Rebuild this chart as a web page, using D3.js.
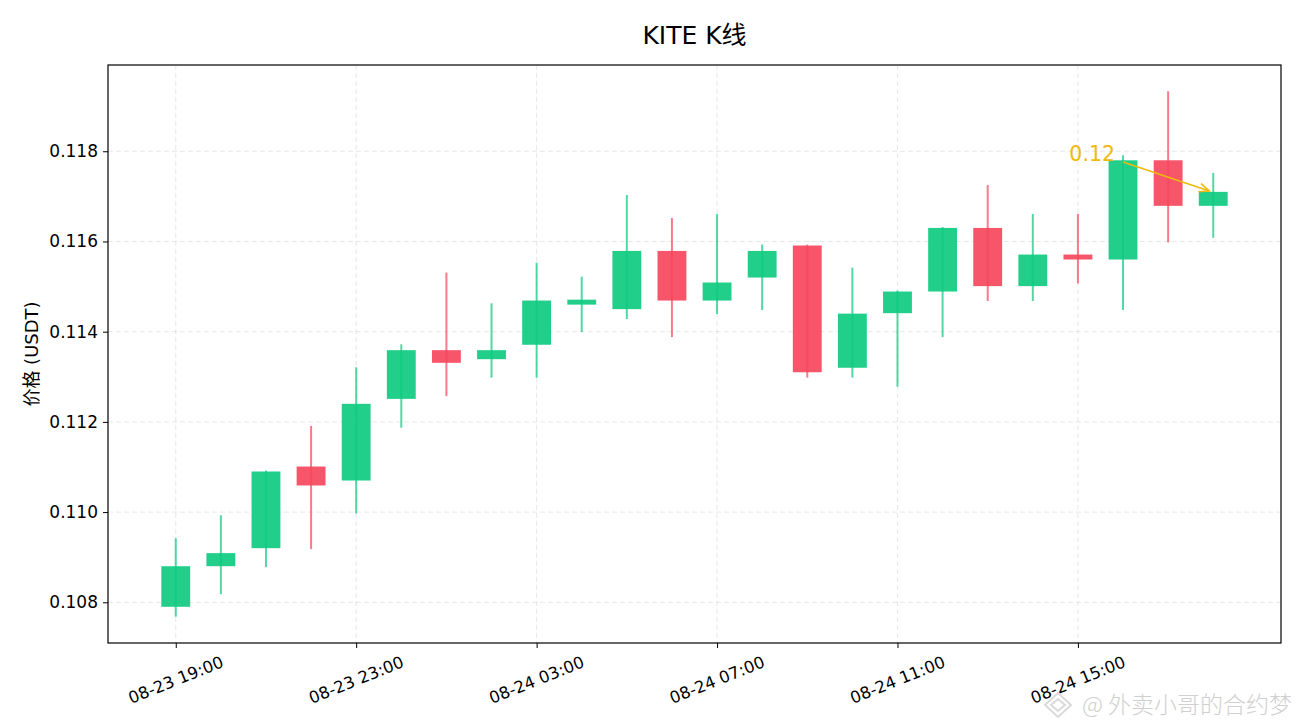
<!DOCTYPE html>
<html>
<head>
<meta charset="utf-8">
<script src="https://cdn.jsdelivr.net/npm/d3@7"></script>
<style>
  body { margin: 0; background: #fff; }
  svg { display: block; font-family: "DejaVu Sans", "Noto Sans CJK SC", sans-serif; }
</style>
</head>
<body>
<svg id="chart" width="1300" height="728"></svg>
<script>
// KITE hourly candles

const times = [
  '2025-08-23 19:00', '2025-08-23 20:00', '2025-08-23 21:00', '2025-08-23 22:00',
  '2025-08-23 23:00', '2025-08-24 00:00', '2025-08-24 01:00', '2025-08-24 02:00',
  '2025-08-24 03:00', '2025-08-24 04:00', '2025-08-24 05:00', '2025-08-24 06:00',
  '2025-08-24 07:00', '2025-08-24 08:00', '2025-08-24 09:00', '2025-08-24 10:00',
  '2025-08-24 11:00', '2025-08-24 12:00', '2025-08-24 13:00', '2025-08-24 14:00',
  '2025-08-24 15:00', '2025-08-24 16:00', '2025-08-24 17:00', '2025-08-24 18:00'
];
const opens = [0.10790, 0.10880, 0.10920, 0.11101, 0.11070, 0.11251, 0.11359, 0.11339,
  0.11371, 0.11460, 0.11450, 0.11579, 0.11469, 0.11520, 0.11591, 0.11320,
  0.11441, 0.11489, 0.11630, 0.11501, 0.11571, 0.11560, 0.11780, 0.11679];
const closes = [0.10880, 0.10909, 0.11090, 0.11059, 0.11240, 0.11359, 0.11331, 0.11359,
  0.11469, 0.11471, 0.11579, 0.11469, 0.11509, 0.11579, 0.11310, 0.11440,
  0.11489, 0.11630, 0.11501, 0.11571, 0.11560, 0.11780, 0.11679, 0.11710];
const highs = [0.10942, 0.10993, 0.11092, 0.11191, 0.11321, 0.11372, 0.11531, 0.11463,
  0.11553, 0.11522, 0.11703, 0.11652, 0.11661, 0.11593, 0.11593, 0.11542,
  0.11491, 0.11632, 0.11725, 0.11661, 0.11661, 0.11791, 0.11933, 0.11752];
const lows = [0.10768, 0.10818, 0.10878, 0.10918, 0.10997, 0.11187, 0.11257, 0.11298,
  0.11298, 0.11399, 0.11428, 0.11388, 0.11439, 0.11448, 0.11298, 0.11298,
  0.11278, 0.11388, 0.11468, 0.11468, 0.11507, 0.11448, 0.11598, 0.11608];

const yTicks = [0.108, 0.110, 0.112, 0.114, 0.116, 0.118];
const xTickIdx = [0, 4, 8, 12, 16, 20];

// annotation: last close, arrow drawn from an earlier candle
const annText = '0.12';
const annFrom = { i: 21, price: 0.11776 };
const annTo = { i: 23, price: 0.11712 };

const green = '#0ecb81', red = '#f6465d', gold = '#f0b90b';
const hour = 3600 * 1000;

const parse = d3.timeParse('%Y-%m-%d %H:%M');
const fmt = d3.timeFormat('%m-%d %H:%M');
const dates = times.map(parse);

const data = dates.map((t, i) => ({
  t: t, o: opens[i], c: closes[i], h: highs[i], l: lows[i]
}));

const svg = d3.select('#chart'),
  margin = { top: 65, right: 19, bottom: 85, left: 108 },
  width = +svg.attr('width') - margin.left - margin.right,
  height = +svg.attr('height') - margin.top - margin.bottom;

const g = svg.append('g')
  .attr('transform', 'translate(' + margin.left + ',' + margin.top + ')');

// matplotlib-like 5% padding on both axes
const half = 0.32 * hour;
const tMin = +dates[0] - half, tMax = +dates[dates.length - 1] + half;
const xPad = (tMax - tMin) * 0.05;
const x = d3.scaleTime()
  .domain([new Date(tMin - xPad), new Date(tMax + xPad)])
  .range([0, width]);

const lo = d3.min(lows), hi = d3.max(highs);
const yPad = (hi - lo) * 0.05;
const y = d3.scaleLinear().domain([lo - yPad, hi + yPad]).range([height, 0]);

// grid
g.append('g').selectAll('line').data(yTicks).join('line')
  .attr('x1', 0).attr('x2', width)
  .attr('y1', d => y(d)).attr('y2', d => y(d))
  .attr('stroke', '#b0b0b0').attr('stroke-opacity', 0.3)
  .attr('stroke-dasharray', '5,3');

g.append('g').selectAll('line').data(xTickIdx).join('line')
  .attr('x1', d => x(dates[d])).attr('x2', d => x(dates[d]))
  .attr('y1', 0).attr('y2', height)
  .attr('stroke', '#b0b0b0').attr('stroke-opacity', 0.3)
  .attr('stroke-dasharray', '5,3');

// candles
const bw = x(new Date(+dates[0] + half)) - x(new Date(+dates[0] - half));
const candles = g.append('g').selectAll('g').data(data).join('g');

candles.append('rect')
  .attr('x', d => x(d.t) - bw / 2)
  .attr('width', bw)
  .attr('y', d => y(Math.max(d.o, d.c)))
  .attr('height', d => Math.max(1, Math.abs(y(d.o) - y(d.c))))
  .attr('fill', d => d.c >= d.o ? green : red)
  .attr('fill-opacity', 0.92);

candles.append('line')
  .attr('x1', d => x(d.t)).attr('x2', d => x(d.t))
  .attr('y1', d => y(d.h)).attr('y2', d => y(d.l))
  .attr('stroke', d => d.c >= d.o ? green : red)
  .attr('stroke-width', 2)
  .attr('stroke-opacity', 0.72);

// axes
const yAxis = g.append('g')
  .call(d3.axisLeft(y).tickValues(yTicks).tickFormat(d3.format('.3f')).tickSizeOuter(0).tickSize(5));
yAxis.select('.domain').remove();
yAxis.selectAll('text').attr('font-size', 17).attr('fill', '#000').attr('dx', -2)
  .style('font-family', '"DejaVu Sans", sans-serif');
yAxis.selectAll('line').attr('stroke', '#000');

const xAxis = g.append('g')
  .attr('transform', 'translate(0,' + height + ')')
  .call(d3.axisBottom(x).tickValues(xTickIdx.map(i => dates[i])).tickFormat(fmt).tickSizeOuter(0).tickSize(5));
xAxis.select('.domain').remove();
xAxis.selectAll('line').attr('stroke', '#000');
xAxis.selectAll('text')
  .attr('font-size', 16.5).attr('fill', '#000')
  .attr('text-anchor', 'middle')
  .attr('y', 0).attr('dy', 0)
  .attr('transform', 'translate(0,38) rotate(-22)')
  .attr('dominant-baseline', 'middle')
  .style('font-family', '"DejaVu Sans", sans-serif');

// frame
g.append('rect')
  .attr('width', width).attr('height', height)
  .attr('fill', 'none').attr('stroke', '#000').attr('stroke-width', 1.2);

// annotation
const ax0 = x(dates[annFrom.i]), ay0 = y(annFrom.price);
const ax1 = x(dates[annTo.i]) - 4, ay1 = y(annTo.price);
const ang = Math.atan2(ay1 - ay0, ax1 - ax0);
const hl = 11, hw = 0.4;
g.append('line')
  .attr('x1', ax0).attr('y1', ay0).attr('x2', ax1).attr('y2', ay1)
  .attr('stroke', gold).attr('stroke-width', 1.6);
g.append('path')
  .attr('d', 'M' + (ax1 - hl * Math.cos(ang - hw)) + ',' + (ay1 - hl * Math.sin(ang - hw)) +
    'L' + ax1 + ',' + ay1 +
    'L' + (ax1 - hl * Math.cos(ang + hw)) + ',' + (ay1 - hl * Math.sin(ang + hw)))
  .attr('fill', 'none').attr('stroke', gold).attr('stroke-width', 1.6);
g.append('text')
  .attr('x', ax0 - 8).attr('y', ay0 - 1)
  .attr('text-anchor', 'end')
  .attr('font-size', 20.5).attr('fill', gold)
  .text(annText);

// title and labels
svg.append('text')
  .attr('x', margin.left + width / 2).attr('y', 44)
  .attr('text-anchor', 'middle').attr('font-size', 25).attr('fill', '#000')
  .text('KITE K线');

svg.append('text')
  .attr('transform', 'translate(38,' + (margin.top + height / 2) + ') rotate(-90)')
  .attr('text-anchor', 'middle').attr('font-size', 18).attr('fill', '#000')
  .text('价格 (USDT)');

// watermark
const wm = svg.append('g').attr('opacity', 0.85);
wm.append('path')
  .attr('d', 'M1058,693 L1071,705 L1058,717 L1045,705 Z M1058,699 L1065,705 L1058,711 L1051,705 Z')
  .attr('fill', 'none').attr('stroke', '#d4d4d4').attr('stroke-width', 2);
wm.append('text')
  .attr('x', 1292).attr('y', 713)
  .attr('text-anchor', 'end').attr('font-size', 23)
  .attr('fill', '#c8c8c8')
  .style('font-family', '"Noto Sans CJK SC", sans-serif')
  .style('font-weight', 300)
  .text('@ 外卖小哥的合约梦');
</script>
</body>
</html>
